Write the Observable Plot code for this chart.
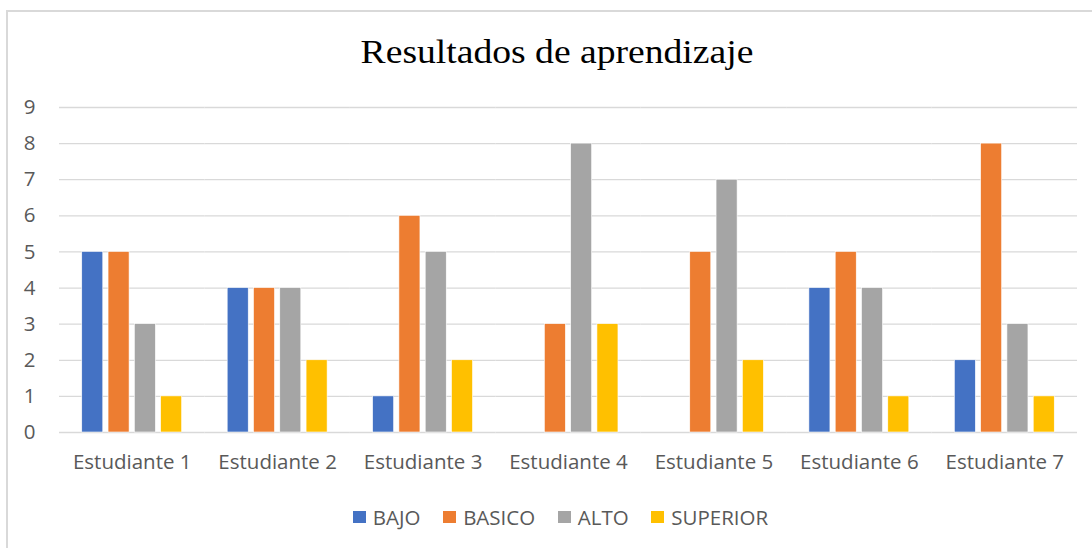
<!DOCTYPE html>
<html>
<head>
<meta charset="utf-8">
<script src="https://cdn.jsdelivr.net/npm/d3@7"></script>
<script src="https://cdn.jsdelivr.net/npm/@observablehq/plot@0.6"></script>
<style>
  html, body { margin: 0; padding: 0; background: #fff; }
  #wrap { position: relative; width: 1092px; height: 548px; overflow: hidden; background: #fff; }
  #frame { position: absolute; left: 6px; top: 10px; width: 1086px; height: 538px;
           border-left: 2px solid #d9d9d9; border-top: 2px solid #d9d9d9; box-sizing: border-box; }
  #title { position: absolute; left: 0; width: 1114px; top: 36px; text-align: center;
           font-family: "Liberation Serif", "Times New Roman", serif; font-size: 33px; color: #000; line-height: 1;
           transform: scaleX(1.14); transform-origin: 557px 0; }
  #chart { position: absolute; left: 0; top: 0; }
  #legend { position: absolute; left: 0; width: 1121px; top: 505px; display: flex; justify-content: center;
            font-family: "Open Sans", Lato, sans-serif; font-size: 20.5px; color: #595959; line-height: 24px; }
  .item { display: flex; align-items: center; margin: 0 11.3px; }
  .sw { width: 13px; height: 12px; margin-right: 7px; }
</style>
</head>
<body>
<div id="wrap">
  <div id="frame"></div>
  <div id="title">Resultados de aprendizaje</div>
  <div id="chart"></div>
  <div id="legend"></div>
</div>
<script>
const students = ["Estudiante 1", "Estudiante 2", "Estudiante 3", "Estudiante 4", "Estudiante 5", "Estudiante 6", "Estudiante 7"];
const series = ["BAJO", "BASICO", "ALTO", "SUPERIOR"];
const colors = ["#4472C4", "#ED7D31", "#A5A5A5", "#FFC000"];
const bajo     = [5, 4, 1, 0, 0, 4, 2];
const basico   = [5, 4, 6, 3, 5, 5, 8];
const alto     = [3, 4, 5, 8, 7, 4, 3];
const superior = [1, 2, 2, 3, 2, 1, 1];
const yTicks = [0, 1, 2, 3, 4, 5, 6, 7, 8, 9];

const valuesBySeries = [bajo, basico, alto, superior];
const data = [];
students.forEach((s, i) => {
  series.forEach((k, j) => data.push({student: s, series: k, value: valuesBySeries[j][i]}));
});

const chart = Plot.plot({
  width: 1092,
  height: 548,
  marginTop: 107,
  marginBottom: 116,
  marginLeft: 59,
  marginRight: 15,
  style: {fontFamily: "'Open Sans', Lato, sans-serif", fontSize: "20.5px", color: "#595959", background: "transparent"},
  fx: {domain: students, padding: 0, round: false, label: null, axis: "bottom", tickSize: 0, tickPadding: 22},
  x: {domain: series, axis: null, round: false, paddingInner: 0.2, paddingOuter: 0.865},
  y: {domain: [0, 9], ticks: yTicks, label: null, tickSize: 0, tickPadding: 24, tickFormat: d3.format("d")},
  color: {domain: series, range: colors},
  marks: [
    Plot.ruleY(yTicks, {stroke: "#d9d9d9", strokeWidth: 1.3}),
    Plot.barY(data, {fx: "student", x: "series", y: "value", fill: "series", stroke: "#fff", strokeWidth: 0.6})
  ]
});
document.getElementById("chart").appendChild(chart);

const legend = document.getElementById("legend");
series.forEach((s, i) => {
  const it = document.createElement("div");
  it.className = "item";
  const sw = document.createElement("div");
  sw.className = "sw";
  sw.style.background = colors[i];
  it.appendChild(sw);
  const t = document.createElement("span");
  t.textContent = s;
  it.appendChild(t);
  legend.appendChild(it);
});
</script>
</body>
</html>
